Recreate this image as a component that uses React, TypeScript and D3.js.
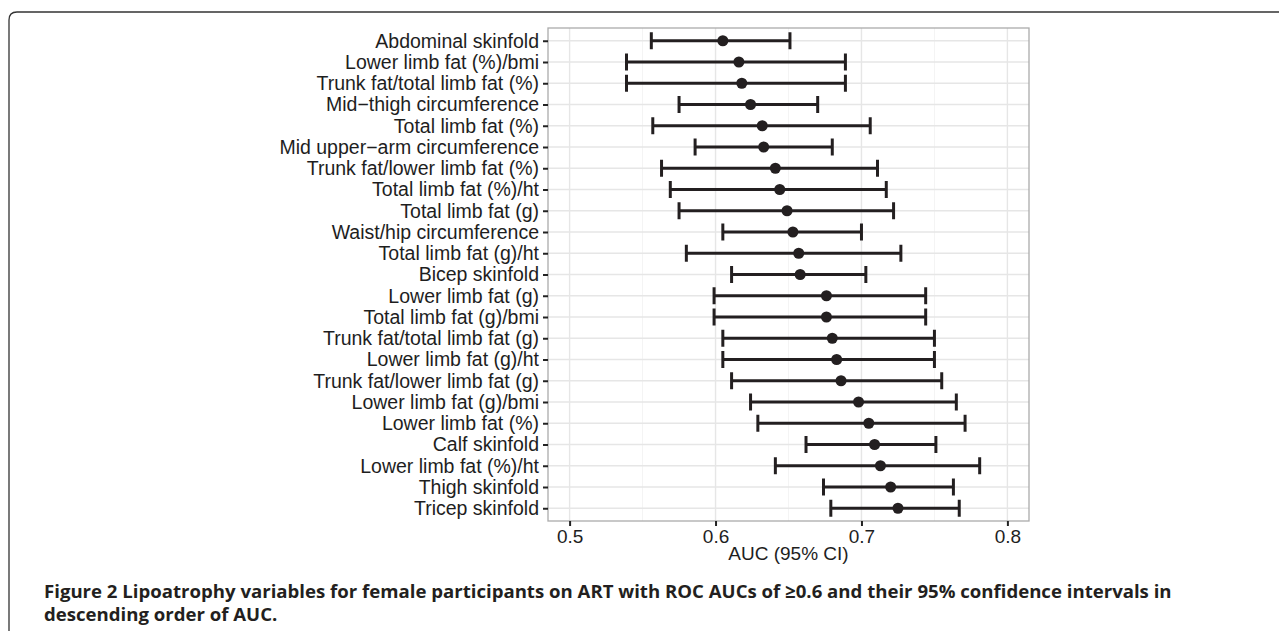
import * as d3 from 'd3'
import { useRef, useEffect } from 'react'

const labels = [
  'Abdominal skinfold',
  'Lower limb fat (%)/bmi',
  'Trunk fat/total limb fat (%)',
  'Mid\u2212thigh circumference',
  'Total limb fat (%)',
  'Mid upper\u2212arm circumference',
  'Trunk fat/lower limb fat (%)',
  'Total limb fat (%)/ht',
  'Total limb fat (g)',
  'Waist/hip circumference',
  'Total limb fat (g)/ht',
  'Bicep skinfold',
  'Lower limb fat (g)',
  'Total limb fat (g)/bmi',
  'Trunk fat/total limb fat (g)',
  'Lower limb fat (g)/ht',
  'Trunk fat/lower limb fat (g)',
  'Lower limb fat (g)/bmi',
  'Lower limb fat (%)',
  'Calf skinfold',
  'Lower limb fat (%)/ht',
  'Thigh skinfold',
  'Tricep skinfold',
]
const auc = [0.605, 0.616, 0.618, 0.624, 0.632, 0.633, 0.641, 0.644, 0.649, 0.653, 0.657, 0.658,
  0.676, 0.676, 0.680, 0.683, 0.686, 0.698, 0.705, 0.709, 0.713, 0.720, 0.725]
const lower = [0.556, 0.539, 0.539, 0.575, 0.557, 0.586, 0.563, 0.569, 0.575, 0.605, 0.580, 0.611,
  0.599, 0.599, 0.605, 0.605, 0.611, 0.624, 0.629, 0.662, 0.641, 0.674, 0.679]
const upper = [0.651, 0.689, 0.689, 0.670, 0.706, 0.680, 0.711, 0.717, 0.722, 0.700, 0.727, 0.703,
  0.744, 0.744, 0.750, 0.750, 0.755, 0.765, 0.771, 0.751, 0.781, 0.763, 0.767]
const xTicks = [0.5, 0.6, 0.7, 0.8]
const xMinor = [0.55, 0.65, 0.75]
const xTitle = 'AUC (95% CI)'
const caption = [
  'Figure 2 Lipoatrophy variables for female participants on ART with ROC AUCs of \u22650.6 and their 95% confidence intervals in',
  'descending order of AUC.',
]

export default function App() {
  const ref = useRef<SVGSVGElement>(null)
  const width = 1279
  const height = 631
  const panel = { left: 548, right: 1029, top: 28, bottom: 521 }
  const font = 'Liberation Sans, Arial, Helvetica, sans-serif'

  useEffect(() => {
    const svg = d3.select(ref.current)
    svg.selectAll('*').remove()

    const x = d3.scaleLinear()
      .domain([0.4852, 0.8148])
      .range([panel.left, panel.right])
    const y = d3.scalePoint<string>()
      .domain(labels)
      .range([panel.top, panel.bottom])
      .padding(0.6)

    // outer frame, only top and left show
    svg.append('path')
      .attr('d', `M9,${height} V20 Q9,12 17,12 H${width}`)
      .attr('fill', 'none')
      .attr('stroke', '#333')
      .attr('stroke-width', 1.3)

    // grid
    svg.append('g').selectAll('line')
      .data(xMinor)
      .join('line')
      .attr('x1', d => x(d)).attr('x2', d => x(d))
      .attr('y1', panel.top).attr('y2', panel.bottom)
      .attr('stroke', '#f4f4f4').attr('stroke-width', 1)
    svg.append('g').selectAll('line')
      .data(xTicks)
      .join('line')
      .attr('x1', d => x(d)).attr('x2', d => x(d))
      .attr('y1', panel.top).attr('y2', panel.bottom)
      .attr('stroke', '#e6e6e6').attr('stroke-width', 1.4)
    svg.append('g').selectAll('line')
      .data(labels)
      .join('line')
      .attr('x1', panel.left).attr('x2', panel.right)
      .attr('y1', d => y(d)!).attr('y2', d => y(d)!)
      .attr('stroke', '#e6e6e6').attr('stroke-width', 1.4)

    svg.append('rect')
      .attr('x', panel.left).attr('y', panel.top)
      .attr('width', panel.right - panel.left)
      .attr('height', panel.bottom - panel.top)
      .attr('fill', 'none')
      .attr('stroke', '#ababab')
      .attr('stroke-width', 1.3)

    // axes
    const yAxisG = svg.append('g')
      .attr('transform', `translate(${panel.left}, 0)`)
      .call(d3.axisLeft(y).tickSize(5).tickPadding(4))
    yAxisG.select('.domain').remove()
    yAxisG.selectAll('line').attr('stroke', '#222').attr('stroke-width', 2)
    yAxisG.selectAll('text')
      .attr('font-family', font)
      .attr('font-size', 19.5)
      .attr('fill', '#1e1e1e')

    const xAxisG = svg.append('g')
      .attr('transform', `translate(0, ${panel.bottom})`)
      .call(d3.axisBottom(x).tickValues(xTicks).tickFormat(d3.format('.1f')).tickSize(5).tickPadding(4))
    xAxisG.select('.domain').remove()
    xAxisG.selectAll('line').attr('stroke', '#222').attr('stroke-width', 2)
    xAxisG.selectAll('text')
      .attr('font-family', font)
      .attr('font-size', 19)
      .attr('fill', '#1e1e1e')

    svg.append('text')
      .attr('x', (panel.left + panel.right) / 2)
      .attr('y', 560)
      .attr('text-anchor', 'middle')
      .attr('font-family', font)
      .attr('font-size', 19)
      .attr('fill', '#1e1e1e')
      .text(xTitle)

    // error bars
    const rows = labels.map((l, i) => ({ label: l, auc: auc[i], lo: lower[i], hi: upper[i] }))
    const bars = svg.append('g')
    bars.selectAll('line.ci')
      .data(rows)
      .join('line')
      .attr('class', 'ci')
      .attr('x1', d => x(d.lo)).attr('x2', d => x(d.hi))
      .attr('y1', d => y(d.label)!).attr('y2', d => y(d.label)!)
      .attr('stroke', '#231f20').attr('stroke-width', 3)
    bars.selectAll('line.capl')
      .data(rows)
      .join('line')
      .attr('class', 'capl')
      .attr('x1', d => x(d.lo)).attr('x2', d => x(d.lo))
      .attr('y1', d => y(d.label)! - 8.5).attr('y2', d => y(d.label)! + 8.5)
      .attr('stroke', '#231f20').attr('stroke-width', 3)
    bars.selectAll('line.caph')
      .data(rows)
      .join('line')
      .attr('class', 'caph')
      .attr('x1', d => x(d.hi)).attr('x2', d => x(d.hi))
      .attr('y1', d => y(d.label)! - 8.5).attr('y2', d => y(d.label)! + 8.5)
      .attr('stroke', '#231f20').attr('stroke-width', 3)
    bars.selectAll('circle')
      .data(rows)
      .join('circle')
      .attr('cx', d => x(d.auc))
      .attr('cy', d => y(d.label)!)
      .attr('r', 5.5)
      .attr('fill', '#231f20')

    // caption
    svg.append('g').selectAll('text')
      .data(caption)
      .join('text')
      .attr('x', 44)
      .attr('y', (d, i) => 598 + i * 23)
      .attr('font-family', 'Open Sans, sans-serif')
      .attr('font-weight', 'bold')
      .attr('font-size', 18.6)
      .attr('fill', '#231f20')
      .text(d => d)
  }, [])

  return (
    <svg ref={ref} width={width} height={height}
      style={{ position: 'absolute', left: 0, top: 0, background: '#fff' }} />
  )
}
